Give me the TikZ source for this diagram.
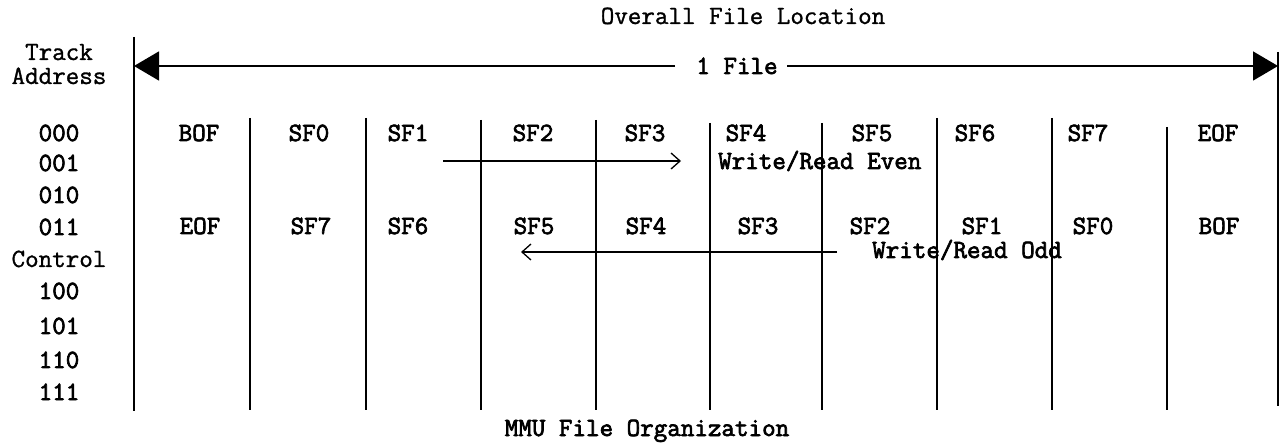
\documentclass[tikz,border=0pt]{standalone}
\usepackage{fontspec}
\newfontfamily\regtt{Latin Modern Mono}[FakeBold=1.2]
\newfontfamily\boldtt{Latin Modern Mono}[FakeBold=2.6]
\usetikzlibrary{arrows.meta}
\begin{document}
\begin{tikzpicture}[x=1pt,y=-1pt,
  txt/.style={font=\regtt\fontsize{26.3}{26}\selectfont, inner sep=0pt, text height=16pt, text depth=0pt},
  btxt/.style={txt, font=\boldtt\fontsize{26.3}{26}\selectfont},
  border/.style={line width=2pt},
  sepline/.style={line width=1.6pt},
  flow/.style={line width=1.3pt, -{Straight Barb[length=9pt,width=16pt,line width=1.3pt]}},
  spanarrow/.style={line width=1.5pt, -{Triangle[length=25pt,width=29pt]}}]
\useasboundingbox (0,0) rectangle (1285,443);

% titles
\node[txt] (title) at (743,16) {Overall File Location};
\node[btxt] (caption) at (647,428) {MMU File Organization};

% left labels
\node[txt] (track) at (59,52) {Track};
\node[txt] (address) at (59,76) {Address};
\node[btxt] (r000) at (59,133) {000};
\node[btxt] (r001) at (59,163) {001};
\node[btxt] (r010) at (59,195) {010};
\node[btxt] (r011) at (59,227) {011};
\node[txt] (rctl) at (59,259) {Control};
\node[btxt] (r100) at (59,291) {100};
\node[btxt] (r101) at (59,326) {101};
\node[btxt] (r110) at (59,360) {110};
\node[btxt] (r111) at (59,392) {111};

% boundary lines
\coordinate (Ltop) at (134,37);
\coordinate (Lbot) at (134,411);
\coordinate (Rtop) at (1278,52);
\coordinate (Rbot) at (1278,406);
\draw[border] (Ltop) -- (Lbot);
\draw[border] (Rtop) -- (Rbot);

% interior separators
\foreach \x/\t [count=\i] in {250/118,366/118,481/120,596/120,710/123,822/123,937/118,1052/118,1167/127}{
  \coordinate (s\i t) at (\x,\t);
  \coordinate (s\i b) at (\x,410);
  \draw[sepline] (s\i t) -- (s\i b);
}

% 1 File span
\node[btxt] (onefile) at (737,66) {1 File};
\coordinate (spanL) at (134,66);
\coordinate (spanR) at (1278,66);
\coordinate (gapL) at (675,66);
\coordinate (gapR) at (787,66);
\draw[spanarrow] (gapL) -- (spanL);
\draw[spanarrow] (gapR) -- (spanR);

% row 000
\node[btxt] (a0) at (199,133) {BOF};
\node[btxt] (a1) at (309,133) {SF0};
\node[btxt] (a2) at (408,133) {SF1};
\node[btxt] (a3) at (533,133) {SF2};
\node[btxt] (a4) at (645,133) {SF3};
\node[btxt] (a5) at (746,133) {SF4};
\node[btxt] (a6) at (872,133) {SF5};
\node[btxt] (a7) at (975,133) {SF6};
\node[btxt] (a8) at (1088,133) {SF7};
\node[btxt] (a9) at (1218,133) {EOF};

% row 011
\node[btxt] (b0) at (200,226) {EOF};
\node[btxt] (b1) at (311,226) {SF7};
\node[btxt] (b2) at (408,226) {SF6};
\node[btxt] (b3) at (534,226) {SF5};
\node[btxt] (b4) at (646,226) {SF4};
\node[btxt] (b5) at (758,226) {SF3};
\node[btxt] (b6) at (870,226) {SF2};
\node[btxt] (b7) at (982,226) {SF1};
\node[btxt] (b8) at (1093,226) {SF0};
\node[btxt] (b9) at (1219,226) {BOF};

% write/read arrows
\node[btxt, anchor=west] (even) at (718,161) {Write/Read Even};
\coordinate (evenS) at (443,161);
\coordinate (evenE) at (681,161);
\draw[flow] (evenS) -- (evenE);

\node[btxt, anchor=west] (odd) at (872,250) {Write/Read Odd};
\coordinate (oddS) at (837,252);
\coordinate (oddE) at (521,252);
\draw[flow] (oddS) -- (oddE);
\end{tikzpicture}
\end{document}
